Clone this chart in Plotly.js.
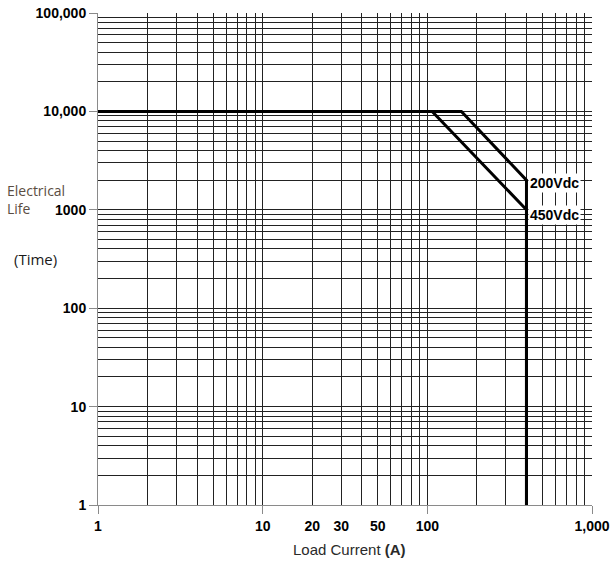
<!DOCTYPE html>
<html>
<head>
<meta charset="utf-8">
<script src="https://cdn.plot.ly/plotly-3.0.1.min.js"></script>
<style>html,body{margin:0;padding:0;background:#fff;}#chart{width:614px;height:567px;}</style>
</head>
<body>
<div id="chart"></div>
<script>
// Data
const current200 = [1, 161, 400, 400];
const life200 = [10000, 10000, 2000, 1];
const current450 = [1, 107, 400, 400];
const life450 = [10000, 10000, 1000, 1];
const seriesLabels = ['200Vdc', '450Vdc'];

// Tick labels
const xTickVals = [1, 10, 20, 30, 50, 100, 1000];
const xTickText = ['1', '10', '20', '30', '50', '100', '1,000'];
const yTickVals = [1, 10, 100, 1000, 10000, 100000];
const yTickText = ['1', '10', '100', '1000', '10,000', '100,000'];
const xDecades = [1, 10, 100, 1000];

function minorVals(decades) {
  const out = [];
  decades.slice(0, -1).forEach(d => { for (let k = 2; k <= 9; k++) out.push(d * k); });
  return out;
}

const gridColor = '#222';
const axisGray = '#8a8a8a';
const tickFont = {family: '"Liberation Sans Narrow", "Arial Narrow", "Liberation Sans", Arial, sans-serif', size: 14, weight: 'bold', color: '#000'};

const traces = [
  {x: current200, y: life200, mode: 'lines', line: {color: '#000', width: 3}, hoverinfo: 'skip', showlegend: false},
  {x: current450, y: life450, mode: 'lines', line: {color: '#000', width: 3}, hoverinfo: 'skip', showlegend: false},
  {x: xDecades, y: xDecades.map(() => 1), xaxis: 'x2', mode: 'markers', marker: {opacity: 0}, hoverinfo: 'skip', showlegend: false}
];

const layout = {
  width: 614, height: 567,
  margin: {l: 98, r: 22, t: 13, b: 62},
  paper_bgcolor: '#fff', plot_bgcolor: '#fff',
  showlegend: false,
  xaxis: {
    type: 'log', range: [0, 3],
    tickmode: 'array', tickvals: xTickVals, ticktext: xTickText,
    ticks: 'outside', ticklen: 8, tickcolor: 'rgba(0,0,0,0)',
    tickfont: tickFont,
    showgrid: true, gridcolor: gridColor, gridwidth: 1,
    minor: {tickmode: 'array', tickvals: minorVals(xDecades), showgrid: true, gridcolor: gridColor, gridwidth: 1, ticks: ''},
    showline: true, linecolor: axisGray, linewidth: 1,
    zeroline: false, fixedrange: true
  },
  xaxis2: {
    type: 'log', range: [0, 3], overlaying: 'x', side: 'bottom', anchor: 'y',
    tickmode: 'array', tickvals: xDecades,
    ticks: 'outside', ticklen: 8, tickcolor: axisGray, tickwidth: 1,
    showticklabels: false, showgrid: false, zeroline: false, showline: false, fixedrange: true
  },
  yaxis: {
    type: 'log', range: [0, 5],
    tickmode: 'array', tickvals: yTickVals, ticktext: yTickText,
    ticks: 'outside', ticklen: 8, tickcolor: axisGray, tickwidth: 1,
    tickfont: tickFont,
    showgrid: true, gridcolor: gridColor, gridwidth: 1,
    minor: {tickmode: 'array', tickvals: minorVals(yTickVals), showgrid: true, gridcolor: gridColor, gridwidth: 1, ticks: ''},
    showline: true, linecolor: axisGray, linewidth: 1,
    zeroline: false, fixedrange: true
  },
  annotations: [
    {text: 'Electrical<br>Life', xref: 'paper', yref: 'paper', x: -0.188, y: 0.62, xanchor: 'left', yanchor: 'middle', align: 'left', showarrow: false,
     font: {family: '"Open Sans", "Noto Sans", sans-serif', size: 14, color: '#5a4d42'}},
    {text: '(Time)', xref: 'paper', yref: 'paper', x: -0.174, y: 0.50, xanchor: 'left', yanchor: 'middle', showarrow: false,
     font: {family: '"Open Sans", "Noto Sans", sans-serif', size: 15, color: '#1a1a1a'}},
    {text: 'Load Current <b>(A)</b>', xref: 'paper', yref: 'paper', x: 0.51, y: -0.09, xanchor: 'center', yanchor: 'middle', showarrow: false,
     font: {family: '"Liberation Sans", Arial, sans-serif', size: 15, color: '#2a2a2a'}},
    {text: seriesLabels[0], x: Math.log10(current200[2]), y: Math.log10(life200[2]), xref: 'x', yref: 'y', xanchor: 'left', yanchor: 'middle',
     xshift: 2, yshift: -3, showarrow: false, bgcolor: '#fff', borderpad: 1, font: tickFont},
    {text: seriesLabels[1], x: Math.log10(current450[2]), y: Math.log10(life450[2]), xref: 'x', yref: 'y', xanchor: 'left', yanchor: 'middle',
     xshift: 2, yshift: -5, showarrow: false, bgcolor: '#fff', borderpad: 1, font: tickFont}
  ]
};

Plotly.newPlot('chart', traces, layout, {staticPlot: true, displayModeBar: false});
</script>
</body>
</html>
